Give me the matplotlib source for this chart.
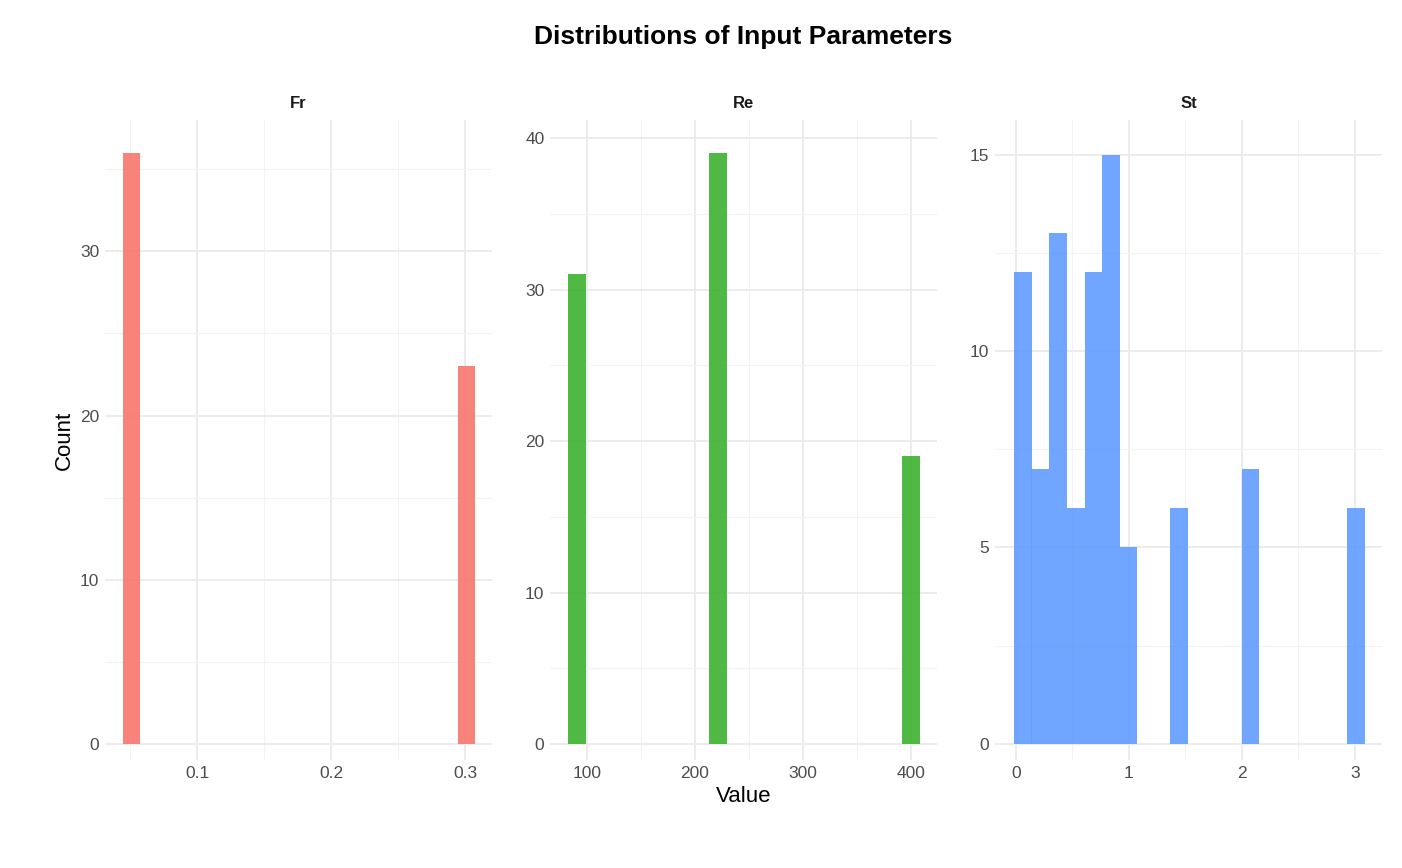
import numpy as np
import matplotlib.pyplot as plt
from matplotlib.ticker import MultipleLocator

plt.rcParams["font.family"] = ["Liberation Sans", "DejaVu Sans"]

# bar centers and counts
fr_x = [0.0511, 0.3007]
fr_n = [36, 23]
re_x = [90.7, 221, 400]
re_n = [31, 39, 19]
st_x = [0.06, 0.215, 0.37, 0.53, 0.685, 0.84, 0.995, 1.446, 2.075, 3.009]
st_n = [12, 7, 13, 6, 12, 15, 5, 6, 7, 6]

panels = [
    ("Fr", fr_x, fr_n, 0.0127, "#F8766D", (0.0313, 0.320), (-0.98, 38.0), 0.1, 0.05, 10, 5),
    ("Re", re_x, re_n, 16.7, "#3DB22F", (65.7, 424), (-1.06, 41.2), 100, 50, 10, 5),
    ("St", st_x, st_n, 0.157, "#619CFF", (-0.186, 3.24), (-0.41, 15.88), 1, 0.5, 5, 2.5),
]

fig = plt.figure(figsize=(14.02, 8.68), dpi=100)
fig.text(743 / 1402, 1 - 37 / 868, "Distributions of Input Parameters",
         fontsize=19, fontweight="bold", ha="center", va="center")
lefts = [105, 550, 995]
for (name, xs, ns, w, col, xl, yl, xmaj, xmin, ymaj, ymin), l in zip(panels, lefts):
    ax = fig.add_axes([l / 1402, 1 - 760 / 868, 387 / 1402, 640 / 868])
    ax.bar(xs, ns, width=w, color=col, alpha=0.9, zorder=3)
    ax.set_xlim(*xl)
    ax.set_ylim(*yl)
    ax.xaxis.set_major_locator(MultipleLocator(xmaj))
    ax.xaxis.set_minor_locator(MultipleLocator(xmin))
    ax.yaxis.set_major_locator(MultipleLocator(ymaj))
    ax.yaxis.set_minor_locator(MultipleLocator(ymin))
    ax.grid(which="major", color="#EBEBEB", linewidth=1.3, zorder=0)
    ax.grid(which="minor", color="#F3F3F3", linewidth=0.8, zorder=0)
    for s in ax.spines.values():
        s.set_visible(False)
    ax.tick_params(which="both", length=0, labelsize=12.5, labelcolor="#4D4D4D", pad=4)
    if name == "Fr":
        ax.xaxis.set_major_formatter(plt.FuncFormatter(lambda v, p: f"{v:.1f}"))
    ax.set_title(name, fontsize=12, fontweight="bold", color="#1A1A1A", pad=9)
    if name == "Fr":
        ax.set_ylabel("Count", fontsize=16)
    if name == "Re":
        ax.set_xlabel("Value", fontsize=16, labelpad=4)

fig.savefig("out.png")
